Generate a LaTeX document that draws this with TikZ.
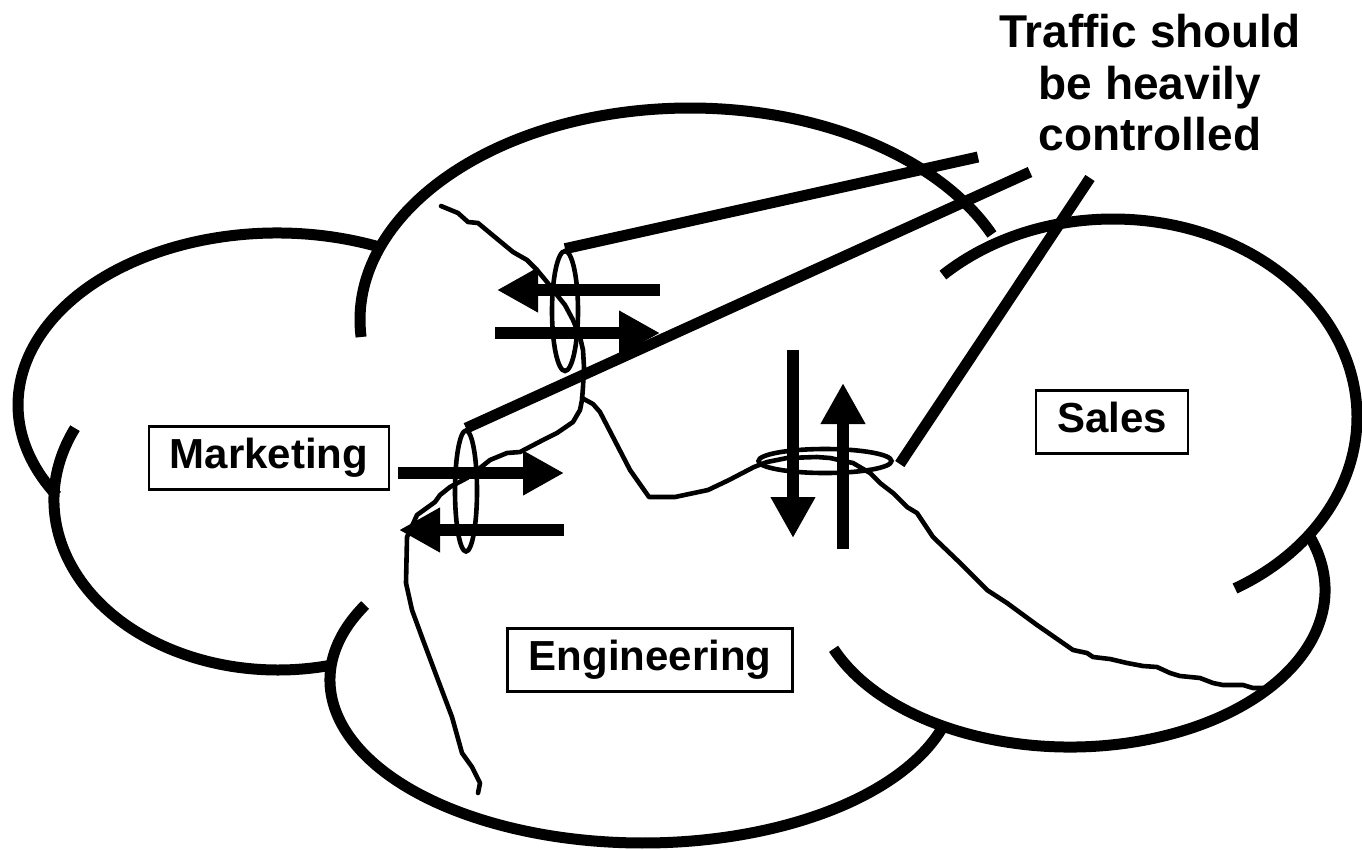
\documentclass[tikz,border=0pt]{standalone}
\usepackage{fontspec}
\setmainfont{Liberation Sans}
\usetikzlibrary{arrows.meta,shapes.geometric}
\begin{document}
\begin{tikzpicture}[x=1pt,y=-1pt,
  cloudarc/.style={line width=11pt},
  wire/.style={line width=4.6pt, line join=round, line cap=round},
  ring/.style={ellipse, draw, line width=4.6pt, inner sep=0pt},
  callout/.style={line width=11pt},
  flow/.style={line width=12pt, -{Triangle[length=41pt,width=42pt]}},
  dept/.style={draw, line width=2.6pt, font=\fontsize{42pt}{46pt}\selectfont\bfseries,
    inner xsep=21pt, inner ysep=12pt, text height=30pt, text depth=9pt}
]
\useasboundingbox (0,0) rectangle (1362,849);

% cloud outline, built from open elliptical arcs
\draw[cloudarc] (277,405) ++(-66.6:259 and 172) arc[start angle=-66.6, end angle=-211.8, x radius=259, y radius=172];
\draw[cloudarc] (278,500) ++(205:224 and 170) arc[start angle=205, end angle=77, x radius=224, y radius=170];
\draw[cloudarc] (690,320) ++(175.4:330 and 212) arc[start angle=175.4, end angle=336.2, x radius=330, y radius=212];
\draw[cloudarc] (643,680) ++(207.4:313 and 163) arc[start angle=207.4, end angle=16.7, x radius=313, y radius=163];
\draw[cloudarc] (1113,417) ++(225.8:244 and 198) arc[start angle=225.8, end angle=420, x radius=244, y radius=198];
\draw[cloudarc] (1070,590) ++(158:255 and 157) arc[start angle=158, end angle=-20, x radius=255, y radius=157];

% department boundaries
\draw[wire] (441,206) -- (458,213) -- (468,222) -- (478,223) -- (490,233) -- (513,252)
  -- (527,260) -- (537,270) -- (547,282) -- (557,295) -- (565,305) -- (573,320)
  -- (580,337) -- (583,350) -- (584,367) -- (583,387) -- (582,400) -- (580,410)
  -- (573,422) -- (557,433) -- (543,440) -- (520,452) -- (507,453) -- (490,460)
  -- (480,468) -- (467,478) -- (450,487) -- (440,495) -- (435,502) -- (417,515)
  -- (407,537) -- (406,583) -- (412,610) -- (423,640) -- (438,680) -- (452,717)
  -- (462,753) -- (472,767) -- (477,777) -- (480,783) -- (478,793);
\draw[wire] (582,398) -- (593,404) -- (600,412) -- (630,470) -- (649,497) -- (675,497)
  -- (708,490) -- (729,480) -- (754,467) -- (767,462) -- (787,458) -- (817,457)
  -- (830,458) -- (853,463) -- (870,473) -- (880,483) -- (893,493) -- (907,507)
  -- (917,513) -- (933,537) -- (957,560) -- (987,590) -- (1007,603) -- (1037,625)
  -- (1073,650) -- (1087,653) -- (1093,657) -- (1110,659) -- (1127,663) -- (1143,666)
  -- (1157,667) -- (1170,673) -- (1180,676) -- (1200,678) -- (1213,683) -- (1223,685)
  -- (1243,685) -- (1253,688) -- (1263,688);

% traffic flows across the boundaries
\coordinate (mkWs) at (660,290); \coordinate (mkWe) at (497,290);
\coordinate (mkEs) at (495,333); \coordinate (mkEe) at (660,333);
\coordinate (enEs) at (398,473); \coordinate (enEe) at (564,473);
\coordinate (enWs) at (564,530); \coordinate (enWe) at (399,530);
\coordinate (saDs) at (793,350); \coordinate (saDe) at (793,538);
\coordinate (saUs) at (843,549); \coordinate (saUe) at (843,383);
\draw[flow] (mkWs) -- (mkWe);
\draw[flow] (mkEs) -- (mkEe);
\draw[flow] (enEs) -- (enEe);
\draw[flow] (enWs) -- (enWe);
\draw[flow] (saDs) -- (saDe);
\draw[flow] (saUs) -- (saUe);

% crossing points
\node[ring, minimum width=26pt, minimum height=120pt] (ringA) at (565,311) {};
\node[ring, minimum width=22pt, minimum height=121pt] (ringB) at (466,491) {};
\node[ring, minimum width=133pt, minimum height=24pt] (ringC) at (825,461) {};

% note and its pointers
\node[anchor=north, inner sep=0pt, align=center,
  font=\fontsize{46pt}{51.5pt}\selectfont\bfseries] (note) at (1150,14)
  {Traffic should\\be heavily\\controlled};
\coordinate (tipA) at (978,157);
\coordinate (tipB) at (1030,172);
\coordinate (tipC) at (1090,178);
\draw[callout] (ringA.north) -- (tipA);
\draw[callout] (ringB.north) -- (tipB);
\draw[callout] (ringC.east) ++(6,3) coordinate (ringCx) (ringCx) -- (tipC);

% departments
\node[dept] (mkt) at (269,458) {Marketing};
\node[dept] (eng) at (650,660) {Engineering};
\node[dept] (sales) at (1112,422) {Sales};
\end{tikzpicture}
\end{document}
